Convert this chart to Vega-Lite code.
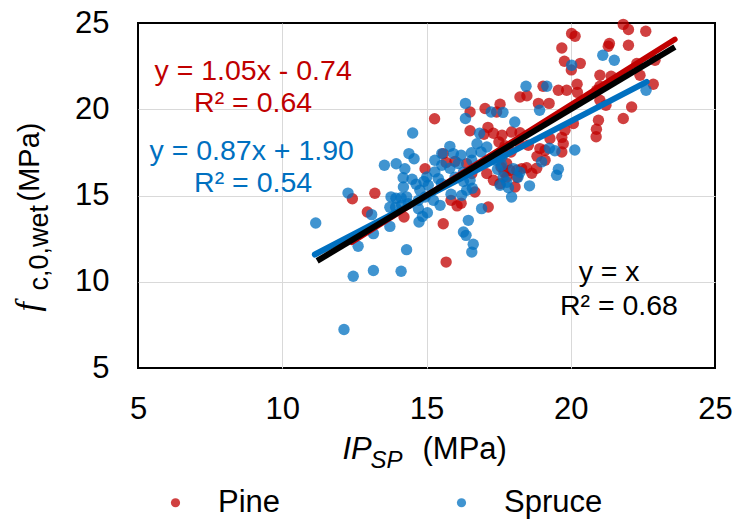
{
  "$schema": "https://vega.github.io/schema/vega-lite/v6.json",
  "width": 577,
  "height": 345,
  "autosize": {"type": "none"},
  "padding": {"left": 138, "top": 23, "right": 19, "bottom": 153},
  "background": "white",
  "config": {
    "view": {"stroke": "black", "strokeWidth": 2},
    "font": "Liberation Sans",
    "axis": {
      "labelFont": "Liberation Sans",
      "labelFontSize": 31,
      "labelColor": "#000000",
      "labelFlush": false,
      "labelOverlap": false,
      "ticks": false,
      "domain": false,
      "gridColor": "#D9D9D9",
      "gridWidth": 1,
      "titleFont": "Liberation Sans",
      "titleColor": "#000000",
      "titleFontWeight": "normal"
    }
  },
  "datasets": {
    "points": [
      {"species": "Pine", "ip": 15.28, "fc": 19.45},
      {"species": "Pine", "ip": 14.95, "fc": 16.55},
      {"species": "Pine", "ip": 13.21, "fc": 15.13},
      {"species": "Pine", "ip": 12.43, "fc": 14.81},
      {"species": "Pine", "ip": 12.95, "fc": 14.04},
      {"species": "Pine", "ip": 14.22, "fc": 13.75},
      {"species": "Pine", "ip": 16.51, "fc": 19.84},
      {"species": "Pine", "ip": 17.03, "fc": 20.04},
      {"species": "Pine", "ip": 17.55, "fc": 20.29},
      {"species": "Pine", "ip": 16.51, "fc": 18.75},
      {"species": "Pine", "ip": 17.13, "fc": 18.95},
      {"species": "Pine", "ip": 17.32, "fc": 18.61},
      {"species": "Pine", "ip": 16.99, "fc": 18.55},
      {"species": "Pine", "ip": 17.62, "fc": 18.49},
      {"species": "Pine", "ip": 17.51, "fc": 18.11},
      {"species": "Pine", "ip": 15.58, "fc": 17.43},
      {"species": "Pine", "ip": 17.58, "fc": 16.65},
      {"species": "Pine", "ip": 17.69, "fc": 16.35},
      {"species": "Pine", "ip": 15.99, "fc": 16.98},
      {"species": "Pine", "ip": 15.85, "fc": 14.72},
      {"species": "Pine", "ip": 16.06, "fc": 14.40},
      {"species": "Pine", "ip": 16.20, "fc": 14.55},
      {"species": "Pine", "ip": 17.14, "fc": 14.33},
      {"species": "Pine", "ip": 15.58, "fc": 13.36},
      {"species": "Pine", "ip": 16.68, "fc": 15.20},
      {"species": "Pine", "ip": 15.68, "fc": 11.14},
      {"species": "Pine", "ip": 19.04, "fc": 21.33},
      {"species": "Pine", "ip": 18.24, "fc": 20.71},
      {"species": "Pine", "ip": 18.48, "fc": 20.78},
      {"species": "Pine", "ip": 19.57, "fc": 21.10},
      {"species": "Pine", "ip": 19.86, "fc": 21.10},
      {"species": "Pine", "ip": 20.22, "fc": 21.45},
      {"species": "Pine", "ip": 18.88, "fc": 20.34},
      {"species": "Pine", "ip": 19.25, "fc": 20.34},
      {"species": "Pine", "ip": 17.43, "fc": 19.84},
      {"species": "Pine", "ip": 17.95, "fc": 18.68},
      {"species": "Pine", "ip": 18.24, "fc": 18.64},
      {"species": "Pine", "ip": 17.72, "fc": 17.88},
      {"species": "Pine", "ip": 17.93, "fc": 17.52},
      {"species": "Pine", "ip": 17.61, "fc": 17.43},
      {"species": "Pine", "ip": 18.53, "fc": 17.91},
      {"species": "Pine", "ip": 18.18, "fc": 18.10},
      {"species": "Pine", "ip": 18.93, "fc": 17.72},
      {"species": "Pine", "ip": 19.11, "fc": 17.62},
      {"species": "Pine", "ip": 18.83, "fc": 17.27},
      {"species": "Pine", "ip": 19.80, "fc": 18.78},
      {"species": "Pine", "ip": 19.69, "fc": 18.37},
      {"species": "Pine", "ip": 19.74, "fc": 18.00},
      {"species": "Pine", "ip": 19.69, "fc": 17.52},
      {"species": "Pine", "ip": 19.28, "fc": 18.30},
      {"species": "Pine", "ip": 20.09, "fc": 19.17},
      {"species": "Pine", "ip": 15.68, "fc": 16.92},
      {"species": "Pine", "ip": 16.39, "fc": 16.85},
      {"species": "Pine", "ip": 16.57, "fc": 16.27},
      {"species": "Pine", "ip": 17.09, "fc": 16.27},
      {"species": "Pine", "ip": 17.32, "fc": 15.88},
      {"species": "Pine", "ip": 17.55, "fc": 15.69},
      {"species": "Pine", "ip": 17.78, "fc": 16.07},
      {"species": "Pine", "ip": 17.89, "fc": 16.46},
      {"species": "Pine", "ip": 18.13, "fc": 16.46},
      {"species": "Pine", "ip": 18.30, "fc": 16.56},
      {"species": "Pine", "ip": 18.07, "fc": 15.49},
      {"species": "Pine", "ip": 18.47, "fc": 16.61},
      {"species": "Pine", "ip": 18.65, "fc": 16.29},
      {"species": "Pine", "ip": 18.82, "fc": 16.58},
      {"species": "Pine", "ip": 19.11, "fc": 17.04},
      {"species": "Pine", "ip": 17.78, "fc": 16.85},
      {"species": "Pine", "ip": 18.14, "fc": 16.06},
      {"species": "Pine", "ip": 19.78, "fc": 22.78},
      {"species": "Pine", "ip": 20.33, "fc": 22.66},
      {"species": "Pine", "ip": 20.02, "fc": 22.28},
      {"species": "Pine", "ip": 21.01, "fc": 21.97},
      {"species": "Pine", "ip": 21.40, "fc": 21.91},
      {"species": "Pine", "ip": 21.01, "fc": 21.33},
      {"species": "Pine", "ip": 20.23, "fc": 20.98},
      {"species": "Pine", "ip": 21.22, "fc": 20.23},
      {"species": "Pine", "ip": 21.01, "fc": 20.52},
      {"species": "Pine", "ip": 20.96, "fc": 19.36},
      {"species": "Pine", "ip": 20.89, "fc": 18.84},
      {"species": "Pine", "ip": 20.88, "fc": 18.41},
      {"species": "Pine", "ip": 22.11, "fc": 20.13},
      {"species": "Pine", "ip": 21.82, "fc": 19.46},
      {"species": "Pine", "ip": 21.82, "fc": 24.92},
      {"species": "Pine", "ip": 22.00, "fc": 24.62},
      {"species": "Pine", "ip": 20.03, "fc": 24.39},
      {"species": "Pine", "ip": 20.15, "fc": 24.23},
      {"species": "Pine", "ip": 22.60, "fc": 24.52},
      {"species": "Pine", "ip": 19.69, "fc": 23.55},
      {"species": "Pine", "ip": 21.34, "fc": 23.81},
      {"species": "Pine", "ip": 21.30, "fc": 23.65},
      {"species": "Pine", "ip": 22.00, "fc": 23.71},
      {"species": "Pine", "ip": 22.92, "fc": 22.84},
      {"species": "Pine", "ip": 22.29, "fc": 22.65},
      {"species": "Pine", "ip": 22.40, "fc": 21.97},
      {"species": "Pine", "ip": 22.86, "fc": 21.45},
      {"species": "Pine", "ip": 20.90, "fc": 21.10},
      {"species": "Spruce", "ip": 14.52, "fc": 18.62},
      {"species": "Spruce", "ip": 14.39, "fc": 17.43},
      {"species": "Spruce", "ip": 14.57, "fc": 17.13},
      {"species": "Spruce", "ip": 13.54, "fc": 16.75},
      {"species": "Spruce", "ip": 13.95, "fc": 16.84},
      {"species": "Spruce", "ip": 14.25, "fc": 16.55},
      {"species": "Spruce", "ip": 14.19, "fc": 16.03},
      {"species": "Spruce", "ip": 12.28, "fc": 15.14},
      {"species": "Spruce", "ip": 11.16, "fc": 13.41},
      {"species": "Spruce", "ip": 12.63, "fc": 12.06},
      {"species": "Spruce", "ip": 12.46, "fc": 10.32},
      {"species": "Spruce", "ip": 13.16, "fc": 10.65},
      {"species": "Spruce", "ip": 14.12, "fc": 10.61},
      {"species": "Spruce", "ip": 14.31, "fc": 11.86},
      {"species": "Spruce", "ip": 12.14, "fc": 7.23},
      {"species": "Spruce", "ip": 13.10, "fc": 13.89},
      {"species": "Spruce", "ip": 13.77, "fc": 14.92},
      {"species": "Spruce", "ip": 13.94, "fc": 14.84},
      {"species": "Spruce", "ip": 14.12, "fc": 14.87},
      {"species": "Spruce", "ip": 14.31, "fc": 14.92},
      {"species": "Spruce", "ip": 13.73, "fc": 14.32},
      {"species": "Spruce", "ip": 13.93, "fc": 14.32},
      {"species": "Spruce", "ip": 14.14, "fc": 14.43},
      {"species": "Spruce", "ip": 14.37, "fc": 14.53},
      {"species": "Spruce", "ip": 13.73, "fc": 13.21},
      {"species": "Spruce", "ip": 13.16, "fc": 12.79},
      {"species": "Spruce", "ip": 14.74, "fc": 13.46},
      {"species": "Spruce", "ip": 14.86, "fc": 13.79},
      {"species": "Spruce", "ip": 15.03, "fc": 14.00},
      {"species": "Spruce", "ip": 14.72, "fc": 14.24},
      {"species": "Spruce", "ip": 14.64, "fc": 15.65},
      {"species": "Spruce", "ip": 14.91, "fc": 15.82},
      {"species": "Spruce", "ip": 15.06, "fc": 15.59},
      {"species": "Spruce", "ip": 14.77, "fc": 15.30},
      {"species": "Spruce", "ip": 15.29, "fc": 17.04},
      {"species": "Spruce", "ip": 16.35, "fc": 20.34},
      {"species": "Spruce", "ip": 16.35, "fc": 19.46},
      {"species": "Spruce", "ip": 17.24, "fc": 19.84},
      {"species": "Spruce", "ip": 17.65, "fc": 19.82},
      {"species": "Spruce", "ip": 16.84, "fc": 18.61},
      {"species": "Spruce", "ip": 15.53, "fc": 17.43},
      {"species": "Spruce", "ip": 15.81, "fc": 17.85},
      {"species": "Spruce", "ip": 15.93, "fc": 17.43},
      {"species": "Spruce", "ip": 15.53, "fc": 16.75},
      {"species": "Spruce", "ip": 15.29, "fc": 16.37},
      {"species": "Spruce", "ip": 16.20, "fc": 17.33},
      {"species": "Spruce", "ip": 16.56, "fc": 17.48},
      {"species": "Spruce", "ip": 16.75, "fc": 18.00},
      {"species": "Spruce", "ip": 16.89, "fc": 17.53},
      {"species": "Spruce", "ip": 17.09, "fc": 17.81},
      {"species": "Spruce", "ip": 16.57, "fc": 17.04},
      {"species": "Spruce", "ip": 14.50, "fc": 15.94},
      {"species": "Spruce", "ip": 14.20, "fc": 15.49},
      {"species": "Spruce", "ip": 15.41, "fc": 15.98},
      {"species": "Spruce", "ip": 15.52, "fc": 15.69},
      {"species": "Spruce", "ip": 15.81, "fc": 16.58},
      {"species": "Spruce", "ip": 16.10, "fc": 16.85},
      {"species": "Spruce", "ip": 15.99, "fc": 16.06},
      {"species": "Spruce", "ip": 16.28, "fc": 16.35},
      {"species": "Spruce", "ip": 16.28, "fc": 15.82},
      {"species": "Spruce", "ip": 16.51, "fc": 15.88},
      {"species": "Spruce", "ip": 16.59, "fc": 15.42},
      {"species": "Spruce", "ip": 15.01, "fc": 16.07},
      {"species": "Spruce", "ip": 14.72, "fc": 14.72},
      {"species": "Spruce", "ip": 14.95, "fc": 14.91},
      {"species": "Spruce", "ip": 15.24, "fc": 14.72},
      {"species": "Spruce", "ip": 15.47, "fc": 14.43},
      {"species": "Spruce", "ip": 15.85, "fc": 15.07},
      {"species": "Spruce", "ip": 16.22, "fc": 15.01},
      {"species": "Spruce", "ip": 16.39, "fc": 15.30},
      {"species": "Spruce", "ip": 16.91, "fc": 14.24},
      {"species": "Spruce", "ip": 16.45, "fc": 13.56},
      {"species": "Spruce", "ip": 16.28, "fc": 12.88},
      {"species": "Spruce", "ip": 16.37, "fc": 12.69},
      {"species": "Spruce", "ip": 17.43, "fc": 17.04},
      {"species": "Spruce", "ip": 17.61, "fc": 17.23},
      {"species": "Spruce", "ip": 17.46, "fc": 16.52},
      {"species": "Spruce", "ip": 17.61, "fc": 16.75},
      {"species": "Spruce", "ip": 17.66, "fc": 16.07},
      {"species": "Spruce", "ip": 17.78, "fc": 15.77},
      {"species": "Spruce", "ip": 17.55, "fc": 15.59},
      {"species": "Spruce", "ip": 17.84, "fc": 15.45},
      {"species": "Spruce", "ip": 17.95, "fc": 14.91},
      {"species": "Spruce", "ip": 18.01, "fc": 16.56},
      {"species": "Spruce", "ip": 18.24, "fc": 16.35},
      {"species": "Spruce", "ip": 18.17, "fc": 16.06},
      {"species": "Spruce", "ip": 18.57, "fc": 15.56},
      {"species": "Spruce", "ip": 16.62, "fc": 12.17},
      {"species": "Spruce", "ip": 16.57, "fc": 11.72},
      {"species": "Spruce", "ip": 18.06, "fc": 19.26},
      {"species": "Spruce", "ip": 18.92, "fc": 19.94},
      {"species": "Spruce", "ip": 18.45, "fc": 21.33},
      {"species": "Spruce", "ip": 19.17, "fc": 21.33},
      {"species": "Spruce", "ip": 18.99, "fc": 16.95},
      {"species": "Spruce", "ip": 19.26, "fc": 17.74},
      {"species": "Spruce", "ip": 19.45, "fc": 17.59},
      {"species": "Spruce", "ip": 19.57, "fc": 16.52},
      {"species": "Spruce", "ip": 19.51, "fc": 16.17},
      {"species": "Spruce", "ip": 20.14, "fc": 17.64},
      {"species": "Spruce", "ip": 22.61, "fc": 21.10},
      {"species": "Spruce", "ip": 21.11, "fc": 23.13},
      {"species": "Spruce", "ip": 21.51, "fc": 22.84},
      {"species": "Spruce", "ip": 20.03, "fc": 22.55}
    ],
    "fits": [
      {"fit": "Pine", "ip": 12.41, "fc": 12.29},
      {"fit": "Pine", "ip": 23.61, "fc": 24.05},
      {"fit": "Spruce", "ip": 11.13, "fc": 11.58},
      {"fit": "Spruce", "ip": 22.63, "fc": 21.59},
      {"fit": "Identity", "ip": 11.21, "fc": 11.21},
      {"fit": "Identity", "ip": 23.61, "fc": 23.61}
    ]
  },
  "resolve": {"axis": {"x": "independent", "y": "independent"}},
  "layer": [
    {
      "data": {"name": "points"},
      "mark": {"type": "point", "shape": "circle", "filled": true, "opacity": 0.75, "size": 130, "strokeWidth": 0},
      "encoding": {
        "x": {
          "field": "ip", "type": "quantitative",
          "scale": {"domain": [5, 25], "nice": false, "zero": false},
          "axis": {
            "orient": "bottom",
            "values": [5, 10, 15, 20, 25], "grid": true, "labelPadding": 26,
            "gridOpacity": {"condition": {"test": "datum.value === 5 || datum.value === 25", "value": 0}, "value": 1},
            "title": "IP", "titleFontStyle": "italic", "titleFontSize": 31,
            "titleX": 204, "titleY": 90, "titleAlign": "left", "titleBaseline": "alphabetic", "titleAngle": 0
          }
        },
        "y": {
          "field": "fc", "type": "quantitative",
          "scale": {"domain": [5, 25], "nice": false, "zero": false},
          "axis": {
            "orient": "left",
            "values": [5, 10, 15, 20, 25], "grid": true, "labelPadding": 29,
            "gridOpacity": {"condition": {"test": "datum.value === 5 || datum.value === 25", "value": 0}, "value": 1},
            "title": "f", "titleFont": "Liberation Serif", "titleFontStyle": "italic", "titleFontSize": 34,
            "titleX": -100, "titleY": 288, "titleAlign": "left", "titleBaseline": "alphabetic", "titleAngle": 270
          }
        },
        "color": {
          "field": "species", "type": "nominal",
          "scale": {"domain": ["Pine", "Spruce"], "range": ["#C00000", "#0070C0"]},
          "legend": {
            "orient": "none", "legendX": 22, "legendY": 464, "direction": "horizontal",
            "title": null, "labelFont": "Liberation Sans", "labelFontSize": 31, "labelColor": "#000000",
            "symbolType": "circle", "symbolSize": 85, "symbolOpacity": 0.75, "symbolStrokeWidth": 0,
            "labelOffset": 27, "columnPadding": 165, "padding": 0, "rowPadding": 0
          }
        }
      }
    },
    {
      "data": {"name": "fits"},
      "transform": [{"filter": "datum.fit === 'Pine'"}],
      "mark": {"type": "line", "color": "#C00000", "strokeWidth": 5.5, "strokeCap": "round"},
      "encoding": {
        "x": {
          "field": "ip", "type": "quantitative",
          "axis": {
            "orient": "bottom",
            "labels": false, "grid": false, "ticks": false, "domain": false,
            "title": "SP", "titleFontStyle": "italic", "titleFontSize": 24,
            "titleX": 232, "titleY": 99, "titleAlign": "left", "titleBaseline": "alphabetic", "titleAngle": 0
          }
        },
        "y": {
          "field": "fc", "type": "quantitative",
          "axis": {
            "orient": "left",
            "labels": false, "grid": false, "ticks": false, "domain": false,
            "title": "c,0,wet", "titleFontSize": 27,
            "titleX": -91, "titleY": 267, "titleAlign": "left", "titleBaseline": "alphabetic", "titleAngle": 270
          }
        }
      }
    },
    {
      "data": {"name": "fits"},
      "transform": [{"filter": "datum.fit === 'Spruce'"}],
      "mark": {"type": "line", "color": "#0070C0", "strokeWidth": 6, "strokeCap": "round"},
      "encoding": {
        "x": {
          "field": "ip", "type": "quantitative",
          "axis": {
            "orient": "bottom",
            "labels": false, "grid": false, "ticks": false, "domain": false,
            "title": "(MPa)", "titleFontSize": 31,
            "titleX": 284, "titleY": 90, "titleAlign": "left", "titleBaseline": "alphabetic", "titleAngle": 0
          }
        },
        "y": {
          "field": "fc", "type": "quantitative",
          "axis": {
            "orient": "left",
            "labels": false, "grid": false, "ticks": false, "domain": false,
            "title": "(MPa)", "titleFontSize": 29,
            "titleX": -100, "titleY": 178, "titleAlign": "left", "titleBaseline": "alphabetic", "titleAngle": 270
          }
        }
      }
    },
    {
      "data": {"name": "fits"},
      "transform": [{"filter": "datum.fit === 'Identity'"}],
      "mark": {"type": "line", "color": "#000000", "strokeWidth": 6},
      "encoding": {
        "x": {"field": "ip", "type": "quantitative", "axis": null},
        "y": {"field": "fc", "type": "quantitative", "axis": null}
      }
    },
    {
      "data": {"values": [{}]},
      "mark": {"type": "text", "text": "y = 1.05x - 0.74", "color": "#C00000", "font": "Liberation Sans", "fontSize": 28.5, "align": "center", "baseline": "alphabetic"},
      "encoding": {"x": {"datum": 8.99, "type": "quantitative", "axis": null}, "y": {"datum": 21.68, "type": "quantitative", "axis": null}}
    },
    {
      "data": {"values": [{}]},
      "mark": {"type": "text", "text": "R² = 0.64", "color": "#C00000", "font": "Liberation Sans", "fontSize": 28.5, "align": "center", "baseline": "alphabetic"},
      "encoding": {"x": {"datum": 8.99, "type": "quantitative", "axis": null}, "y": {"datum": 19.84, "type": "quantitative", "axis": null}}
    },
    {
      "data": {"values": [{}]},
      "mark": {"type": "text", "text": "y = 0.87x + 1.90", "color": "#0070C0", "font": "Liberation Sans", "fontSize": 28.5, "align": "center", "baseline": "alphabetic"},
      "encoding": {"x": {"datum": 8.94, "type": "quantitative", "axis": null}, "y": {"datum": 17.04, "type": "quantitative", "axis": null}}
    },
    {
      "data": {"values": [{}]},
      "mark": {"type": "text", "text": "R² = 0.54", "color": "#0070C0", "font": "Liberation Sans", "fontSize": 28.5, "align": "center", "baseline": "alphabetic"},
      "encoding": {"x": {"datum": 8.99, "type": "quantitative", "axis": null}, "y": {"datum": 15.20, "type": "quantitative", "axis": null}}
    },
    {
      "data": {"values": [{}]},
      "mark": {"type": "text", "text": "y = x", "color": "#000000", "font": "Liberation Sans", "fontSize": 28.5, "align": "center", "baseline": "alphabetic"},
      "encoding": {"x": {"datum": 21.33, "type": "quantitative", "axis": null}, "y": {"datum": 10.03, "type": "quantitative", "axis": null}}
    },
    {
      "data": {"values": [{}]},
      "mark": {"type": "text", "text": "R² = 0.68", "color": "#000000", "font": "Liberation Sans", "fontSize": 28.5, "align": "center", "baseline": "alphabetic"},
      "encoding": {"x": {"datum": 21.67, "type": "quantitative", "axis": null}, "y": {"datum": 8.06, "type": "quantitative", "axis": null}}
    }
  ]
}
